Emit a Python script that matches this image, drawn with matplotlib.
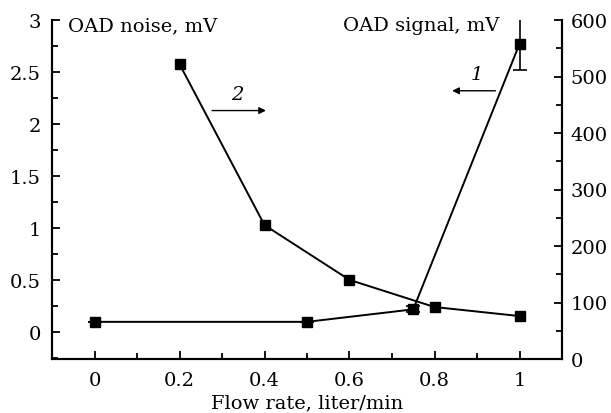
import matplotlib
matplotlib.use('Agg')
import matplotlib.pyplot as plt
from matplotlib.ticker import MultipleLocator

plt.rcParams['font.family'] = 'DejaVu Serif'
plt.rcParams['font.size'] = 14

# curve 1: OAD noise (left axis)
flow_1 = [0.0, 0.5, 0.75, 1.0]
noise = [0.10, 0.10, 0.22, 2.77]
noise_err = [0.0, 0.0, 0.03, 0.25]

# curve 2: OAD signal (right axis)
flow_2 = [0.2, 0.4, 0.6, 0.8, 1.0]
signal = [522, 237, 140, 92, 76]

fig = plt.figure(figsize=(6.11, 4.14), dpi=100)
ax = fig.add_axes([52 / 611, 54 / 414, 510 / 611, 339 / 414])
ax2 = ax.twinx()

ax.errorbar(flow_1, noise, yerr=noise_err, color='black', lw=1.4,
            marker='s', ms=7, capsize=5, elinewidth=1.2, capthick=1.2)
ax2.plot(flow_2, signal, color='black', lw=1.4, marker='s', ms=7)

ax.set_xlim(-0.1, 1.1)
ax.set_ylim(-0.257, 3.0)
ax2.set_ylim(0, 600)

ax.xaxis.set_minor_locator(MultipleLocator(0.1))
ax.yaxis.set_minor_locator(MultipleLocator(0.25))
ax2.yaxis.set_major_locator(MultipleLocator(100))
ax2.yaxis.set_minor_locator(MultipleLocator(50))

ax.set_xticks([0, 0.2, 0.4, 0.6, 0.8, 1.0])
ax.set_xticklabels(['0', '0.2', '0.4', '0.6', '0.8', '1'])
ax.set_yticks([0, 0.5, 1, 1.5, 2, 2.5, 3])
ax.set_yticklabels(['0', '0.5', '1', '1.5', '2', '2.5', '3'])

for a in (ax, ax2):
    a.spines['top'].set_visible(False)
    for s in a.spines.values():
        s.set_linewidth(1.5)
    a.tick_params(which='both', direction='in', width=1.3)
    a.tick_params(which='major', length=6)
    a.tick_params(which='minor', length=4)
ax.tick_params(axis='y', pad=8)
ax2.tick_params(axis='y', pad=6)
ax.tick_params(axis='x', pad=9)

ax.set_xlabel('Flow rate, liter/min', labelpad=3)

ax.text(0.032, 0.985, 'OAD noise, mV', transform=ax.transAxes,
        ha='left', va='center')
ax.text(0.878, 0.985, 'OAD signal, mV', transform=ax.transAxes,
        ha='right', va='center')

# curve markers
ax.annotate('', xy=(0.41, 2.13), xytext=(0.27, 2.13),
            arrowprops=dict(arrowstyle='-|>', color='black', lw=1.0,
                            mutation_scale=10))
ax.text(0.335, 2.2, '2', style='italic', ha='center', va='bottom')
ax.annotate('', xy=(0.835, 2.32), xytext=(0.95, 2.32),
            arrowprops=dict(arrowstyle='-|>', color='black', lw=1.0,
                            mutation_scale=10))
ax.text(0.9, 2.39, '1', style='italic', ha='center', va='bottom')

fig.savefig('out.png', dpi=100)
